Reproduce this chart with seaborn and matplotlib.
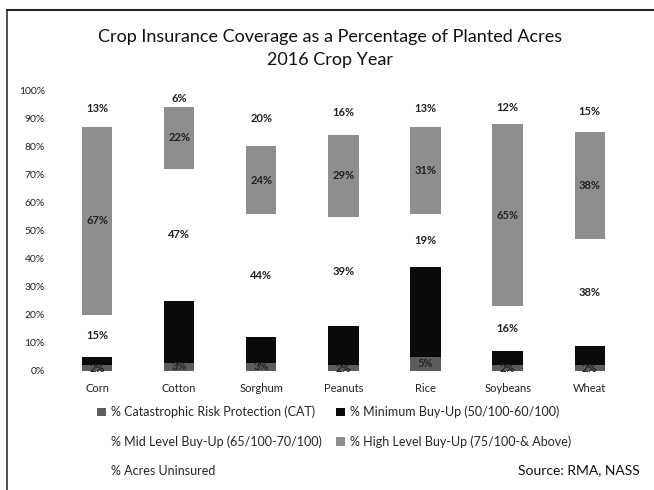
import numpy as np
import seaborn as sns
from matplotlib import pyplot as plt
from matplotlib.patches import Patch
from matplotlib.lines import Line2D
from matplotlib.ticker import PercentFormatter

sns.set_theme(style="white")
plt.rcParams["font.family"] = ["Lato", "DejaVu Sans"]

crops = ["Corn", "Cotton", "Sorghum", "Peanuts", "Rice", "Soybeans", "Wheat"]
cat = [2, 3, 3, 2, 5, 2, 2]
min_buy = [3, 22, 9, 14, 32, 5, 7]
mid_buy = [15, 47, 44, 39, 19, 16, 38]
high_buy = [67, 22, 24, 29, 31, 65, 38]
uninsured = [13, 6, 20, 16, 13, 12, 15]

series = ["% Catastrophic Risk Protection (CAT)", "% Minimum Buy-Up (50/100-60/100)",
          "% Mid Level Buy-Up (65/100-70/100)", "% High Level Buy-Up (75/100-& Above)",
          "% Acres Uninsured"]
colors = ["#5c5c5c", "#0a0a0a", "#ffffff", "#8e8e8e", "#ffffff"]

layers = np.array([cat, min_buy, mid_buy, high_buy, uninsured]) / 100
tops = layers.cumsum(axis=0)
bottoms = tops - layers


def main():
    fig = plt.figure(figsize=(6.54, 4.90), dpi=100)
    ax = fig.add_axes([0.0856, 0.243, 0.879, 0.573])

    # draw cumulative totals from the top down so each layer covers the one above
    for i in range(len(series) - 1, -1, -1):
        sns.barplot(x=crops, y=tops[i], color=colors[i], width=0.37, saturation=1,
                    linewidth=0, ax=ax)

    # value labels (minimum buy-up labels are black on black in the original)
    for i in [0, 2, 3, 4]:
        for j in range(len(crops)):
            ax.text(j, (bottoms[i, j] + tops[i, j]) / 2, f"{layers[i, j] * 100:.0f}%",
                    ha="center", va="center", fontsize=8, fontweight="bold", color="#222222")

    ax.set_ylim(0, 1)
    ax.set_xlim(-0.5, 6.5)
    ax.set_yticks(np.arange(0, 1.01, 0.1))
    ax.yaxis.set_major_formatter(PercentFormatter(1.0, decimals=0))
    ax.tick_params(axis="y", labelsize=7.5, pad=8, length=0, labelcolor="#222222")
    ax.tick_params(axis="x", labelsize=8, pad=9, length=0, labelcolor="#222222")
    sns.despine(ax=ax, left=True, bottom=True)

    fig.text(0.505, 0.901, "Crop Insurance Coverage as a Percentage of Planted Acres\n2016 Crop Year",
             ha="center", va="center", fontsize=13, linespacing=1.55, color="#111111")

    handles = [Patch(facecolor=c, edgecolor="none") for c in colors]
    order = [0, 2, 4, 1, 3]
    fig.legend([handles[k] for k in order], [series[k] for k in order], ncol=2,
               loc="upper left", bbox_to_anchor=(0.148, 0.172), frameon=False,
               fontsize=9, handlelength=0.7, handleheight=0.7, handletextpad=0.4,
               columnspacing=1.15, labelspacing=1.35, borderpad=0, borderaxespad=0)

    fig.text(0.978, 0.041, "Source: RMA, NASS", ha="right", va="center", fontsize=10, color="#111111")

    # scanned frame edges
    fig.add_artist(Line2D([0.011, 0.011], [0.0, 0.98], transform=fig.transFigure,
                          color="#333333", linewidth=1.2))
    fig.add_artist(Line2D([0.011, 1.0], [0.98, 0.98], transform=fig.transFigure,
                          color="#222222", linewidth=1.5))

    fig.savefig("out.png", dpi=100)


if __name__ == "__main__":
    main()
